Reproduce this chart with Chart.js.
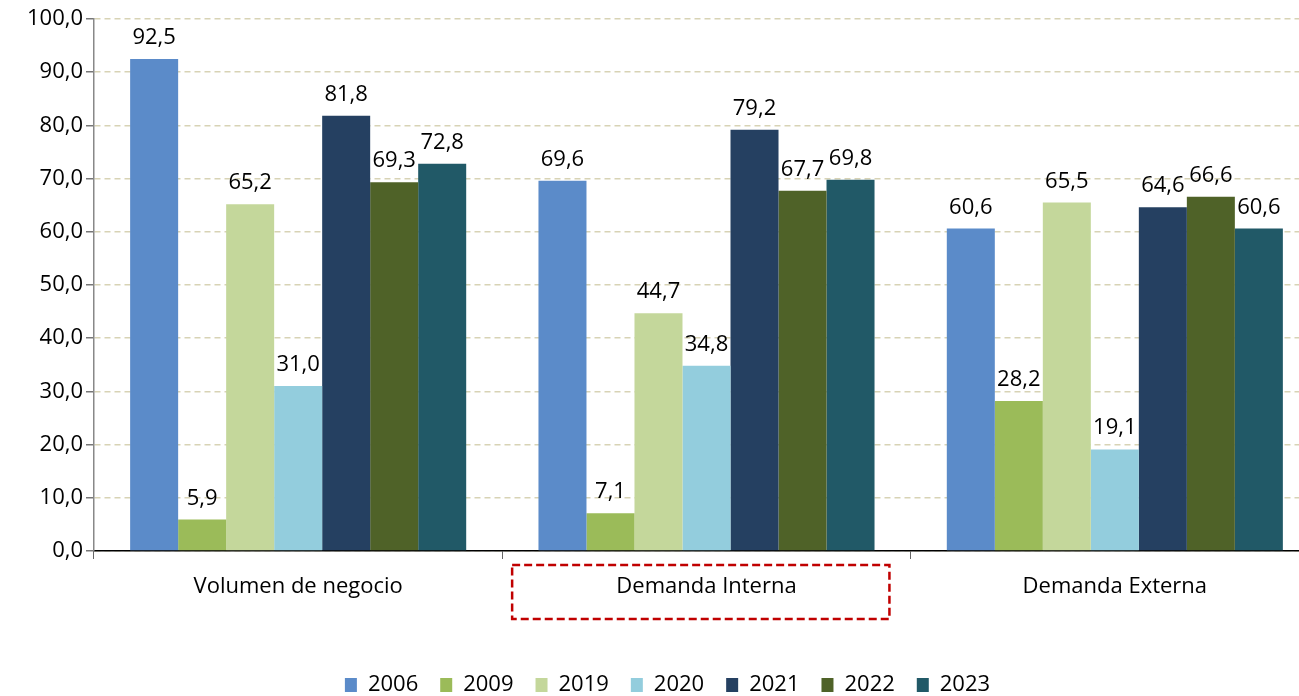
<!DOCTYPE html>
<html>
<head>
<meta charset="utf-8">
<script src="https://cdn.jsdelivr.net/npm/chart.js@4"></script>
<style>
  html, body { margin: 0; padding: 0; background: #fff; overflow: hidden; }
  /* the original plot runs past the right edge of the picture */
  #wrap { width: 1319px; height: 696px; }
</style>
</head>
<body>
<div id="wrap"><canvas id="chart"></canvas></div>
<script>
// Categories and series values
const categories = ['Volumen de negocio', 'Demanda Interna', 'Demanda Externa'];
const years = ['2006', '2009', '2019', '2020', '2021', '2022', '2023'];
const v2006 = [92.5, 69.6, 60.6];
const v2009 = [5.9, 7.1, 28.2];
const v2019 = [65.2, 44.7, 65.5];
const v2020 = [31.0, 34.8, 19.1];
const v2021 = [81.8, 79.2, 64.6];
const v2022 = [69.3, 67.7, 66.6];
const v2023 = [72.8, 69.8, 60.6];
const colors = ['#5B8BC9', '#9BBB59', '#C4D79B', '#93CDDD', '#254061', '#4F6228', '#215967'];
const highlighted = 'Demanda Interna';

const seriesValues = [v2006, v2009, v2019, v2020, v2021, v2022, v2023];
const fmt = v => v.toFixed(1).replace('.', ',');
const FONT = "'Open Sans', sans-serif";

// draws the value above each bar
const barLabels = {
    id: 'barLabels',
    afterDatasetsDraw(chart) {
        const ctx = chart.ctx;
        ctx.save();
        ctx.font = '22px ' + FONT;
        ctx.fillStyle = '#000';
        ctx.textAlign = 'center';
        ctx.textBaseline = 'alphabetic';
        chart.data.datasets.forEach((ds, i) => {
            chart.getDatasetMeta(i).data.forEach((bar, j) => {
                ctx.fillText(fmt(ds.data[j]), bar.x, bar.y - 15);
            });
        });
        ctx.restore();
    }
};

// dashed red frame around one category label
const labelFrame = {
    id: 'labelFrame',
    afterDraw(chart) {
        const x = chart.scales.x;
        const idx = categories.indexOf(highlighted);
        const cw = x.width / categories.length;
        const cx = x.getPixelForValue(idx);
        const ctx = chart.ctx;
        ctx.save();
        ctx.strokeStyle = '#C00000';
        ctx.lineWidth = 2.5;
        ctx.setLineDash([8, 4]);
        ctx.strokeRect(cx - cw * 0.476, x.top + 14, cw * 0.924, 54);
        ctx.restore();
    }
};

// nudge legend a little to the right, like the original
const legendShift = {
    id: 'legendShift',
    afterLayout(chart) {
        chart.legend.left += 8;
        chart.legend.right += 8;
    }
};

new Chart(document.getElementById('chart'), {
    type: 'bar',
    data: {
        labels: categories,
        datasets: years.map((y, i) => ({
            label: y,
            data: seriesValues[i],
            backgroundColor: colors[i],
            borderWidth: 0,
            barPercentage: 1,
            categoryPercentage: 0.823
        }))
    },
    options: {
        responsive: true,
        maintainAspectRatio: false,
        animation: false,
        layout: { padding: { top: 19, right: 0, left: 0, bottom: -10 } },
        plugins: {
            legend: {
                position: 'bottom',
                labels: {
                    color: '#000',
                    font: { family: FONT, size: 22 },
                    boxWidth: 12,
                    boxHeight: 14,
                    padding: 22
                }
            },
            tooltip: { enabled: false }
        },
        scales: {
            x: {
                grid: {
                    offset: true,
                    drawOnChartArea: false,
                    color: '#666',
                    tickLength: 8
                },
                border: { color: '#000', width: 1.5 },
                ticks: {
                    color: '#000',
                    font: { family: FONT, size: 22 },
                    padding: 15
                },
                afterFit(scale) { scale.height = 101; }
            },
            y: {
                min: 0,
                max: 100,
                ticks: {
                    stepSize: 10,
                    color: '#000',
                    font: { family: FONT, size: 22 },
                    padding: 3,
                    callback: v => fmt(v)
                },
                grid: {
                    color: '#D8D3B5',
                    lineWidth: 1.5,
                    tickLength: 8,
                    tickColor: '#777'
                },
                border: { color: '#888', width: 1.5, dash: [6, 4] },
                afterFit(scale) { scale.width = 94; }
            }
        }
    },
    plugins: [barLabels, labelFrame, legendShift]
});
</script>
</body>
</html>
